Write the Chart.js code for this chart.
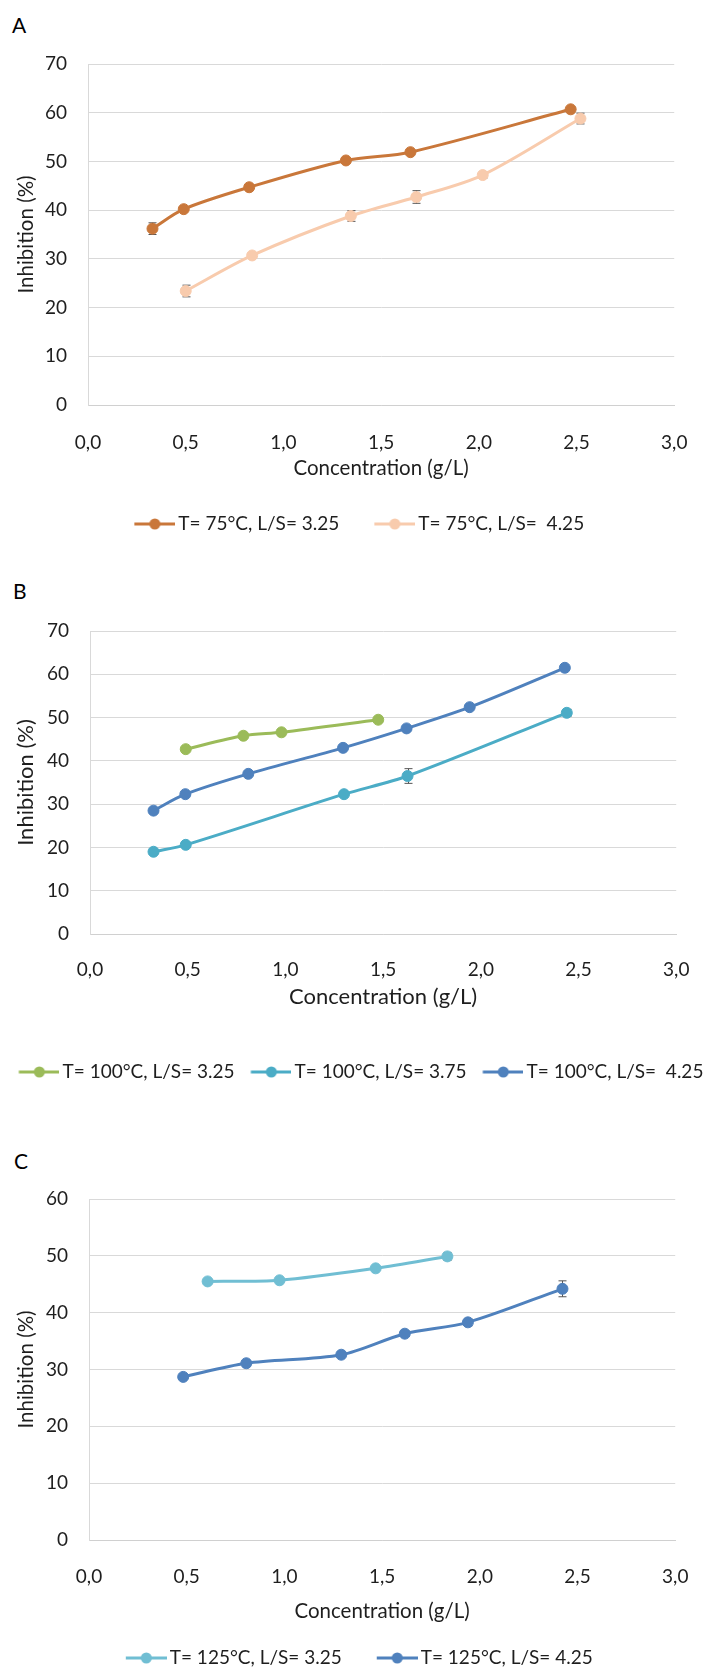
<!DOCTYPE html>
<html>
<head>
<meta charset="utf-8">
<script src="https://cdn.jsdelivr.net/npm/chart.js@4.4.0/dist/chart.umd.min.js"></script>
<style>
  html, body { margin: 0; padding: 0; background: #fff; overflow: hidden; }
  body { width: 706px; height: 1669px; position: relative; }
  canvas { position: absolute; left: 0; }
  .tag { position: absolute; font-family: Lato, sans-serif; font-size: 21px; line-height: 21px; color: #000; }
</style>
</head>
<body>
<div class="tag" style="left:12px;top:13.5px">A</div>
<div class="tag" style="left:13px;top:579.5px">B</div>
<div class="tag" style="left:14px;top:1149.5px">C</div>
<canvas id="chartA" style="top:0px" width="706" height="548"></canvas>
<canvas id="chartB" style="top:548px" width="706" height="552"></canvas>
<canvas id="chartC" style="top:1100px" width="706" height="580"></canvas>
<script>
// ---- panel A : T = 75 °C
const a1Label = 'T= 75°C, L/S= 3.25';
const a1X   = [0.33, 0.49, 0.825, 1.32, 1.65, 2.47];
const a1Y   = [36.2, 40.2, 44.7, 50.2, 51.9, 60.7];
const a1Err = [1.2, 0.3, 0.3, 0.3, 0.3, 0.4];

const a2Label = 'T= 75°C, L/S=  4.25';
const a2X   = [0.50, 0.84, 1.345, 1.68, 2.02, 2.52];
const a2Y   = [23.4, 30.7, 38.8, 42.7, 47.2, 58.8];
const a2Err = [1.2, 0.5, 1.1, 1.3, 0.6, 1.1];

// ---- panel B : T = 100 °C
const b1Label = 'T= 100°C, L/S= 3.25';
const b1X   = [0.49, 0.785, 0.98, 1.475];
const b1Y   = [42.7, 45.8, 46.6, 49.5];
const b1Err = [0.3, 0.4, 0.6, 0.6];

const b2Label = 'T= 100°C, L/S= 3.75';
const b2X   = [0.325, 0.49, 1.30, 1.625, 2.44];
const b2Y   = [19.0, 20.6, 32.3, 36.5, 51.1];
const b2Err = [0.4, 0.6, 0.4, 1.7, 0.8];

const b3Label = 'T= 100°C, L/S=  4.25';
const b3X   = [0.325, 0.488, 0.81, 1.295, 1.62, 1.943, 2.43];
const b3Y   = [28.5, 32.3, 37.0, 43.0, 47.5, 52.4, 61.5];
const b3Err = [0.3, 0.3, 0.3, 0.3, 0.3, 0.3, 0.3];

// ---- panel C : T = 125 °C
const c1Label = 'T= 125°C, L/S= 3.25';
const c1X   = [0.607, 0.975, 1.467, 1.834];
const c1Y   = [45.5, 45.7, 47.8, 49.9];
const c1Err = [0.3, 0.3, 0.3, 0.7];

const c2Label = 'T= 125°C, L/S= 4.25';
const c2X   = [0.482, 0.805, 1.291, 1.616, 1.939, 2.423];
const c2Y   = [28.7, 31.1, 32.6, 36.3, 38.3, 44.2];
const c2Err = [0.3, 0.3, 0.3, 0.5, 0.6, 1.4];

const xMin = 0, xMax = 3, xStep = 0.5;
const yStep = 10;

const FONT = 'Lato, sans-serif';
const TEXT = '#1e1e1e';
const GRID = '#d9d9d9';
const LEGEND_SIZE = 19;

// error bars drawn under the lines, from the y scale
const errorBars = {
    id: 'errorBars',
    beforeDatasetsDraw(chart)
    {
        const ctx = chart.ctx;
        const yScale = chart.scales.y;
        chart.data.datasets.forEach( (ds, i) =>
        {
            if(!ds.errors) return;
            const meta = chart.getDatasetMeta(i);
            ctx.save();
            ctx.strokeStyle = '#555';
            ctx.lineWidth = 1;
            meta.data.forEach( (pt, j) =>
            {
                const v = ds.data[j].y, e = ds.errors[j];
                const top = yScale.getPixelForValue(v + e);
                const bot = yScale.getPixelForValue(v - e);
                const x = Math.round(pt.x) + 0.5;
                ctx.beginPath();
                ctx.moveTo(x, top); ctx.lineTo(x, bot);
                ctx.moveTo(x - 4, top); ctx.lineTo(x + 4, top);
                ctx.moveTo(x - 4, bot); ctx.lineTo(x + 4, bot);
                ctx.stroke();
            } );
            ctx.restore();
        } );
    }
};

// line + dot legend symbol, pushed to the right side of its box
function legendMarker(color, bw)
{
    const w = bw + 13, h = 12;
    const c = document.createElement('canvas');
    c.width = w; c.height = h;
    const g = c.getContext('2d');
    g.strokeStyle = color; g.lineWidth = 3;
    g.beginPath(); g.moveTo(w - 41, h/2); g.lineTo(w, h/2); g.stroke();
    g.fillStyle = color;
    g.beginPath(); g.arc(w - 20.5, h/2, 5.5, 0, Math.PI*2); g.fill();
    return c;
}

function series(label, xs, ys, errs, color)
{
    return {
        label: label,
        data: xs.map( (x, i) => ({x: x, y: ys[i]}) ),
        errors: errs,
        borderColor: color,
        backgroundColor: color,
        borderWidth: 3,
        pointRadius: 5.5,
        pointBorderWidth: 1,
        pointHoverRadius: 5.5,
        showLine: true,
        tension: 0.3,
    };
}

function buildChart(canvas, datasets, p)
{
    const markers = datasets.map( (ds) => legendMarker(ds.borderColor, p.boxW) );
    return new Chart(canvas,
    {
        type: 'scatter',
        data: { datasets: datasets },
        plugins: [errorBars],
        options: {
            responsive: false,
            animation: false,
            layout: { padding: { top: p.padTop, bottom: p.padBottom, left: 0, right: 0 } },
            plugins: {
                tooltip: { enabled: false },
                title: { display: false },
                legend: {
                    position: 'bottom',
                    labels: {
                        usePointStyle: true,
                        pointStyleWidth: p.boxW,
                        padding: p.legendPad,
                        color: TEXT,
                        font: { family: FONT, size: LEGEND_SIZE },
                        generateLabels: function(chart) {
                            const items = Chart.defaults.plugins.legend.labels.generateLabels(chart);
                            items.forEach( (it, i) => { it.pointStyle = markers[i]; } );
                            return items;
                        }
                    }
                }
            },
            scales: {
                x: {
                    type: 'linear',
                    min: xMin, max: xMax,
                    grid: { display: false },
                    border: { display: true, color: '#d0d0d0', width: 1 },
                    ticks: {
                        stepSize: xStep,
                        padding: p.xTickPad,
                        color: TEXT,
                        font: { family: FONT, size: 19 },
                        maxRotation: 0,
                        callback: (v) => v.toFixed(1).replace('.', ',')
                    },
                    title: {
                        display: true,
                        text: 'Concentration (g/L)',
                        color: TEXT,
                        font: { family: FONT, size: p.titleSize },
                        padding: { top: 0, bottom: p.xTitlePad }
                    },
                    afterFit: (s) => { s.height = p.xHeight; }
                },
                y: {
                    min: 0, max: p.yMax,
                    grid: { color: GRID, lineWidth: 1, drawTicks: false },
                    border: { display: true, color: GRID, width: 1 },
                    ticks: {
                        stepSize: yStep,
                        padding: 21,
                        color: TEXT,
                        font: { family: FONT, size: 19 }
                    },
                    title: {
                        display: true,
                        text: 'Inhibition (%)',
                        color: TEXT,
                        font: { family: FONT, size: p.titleSize },
                        padding: { top: p.yTitlePad, bottom: 0 }
                    },
                    afterFit: (s) => { s.width = p.yWidth; }
                },
                yRight: {
                    position: 'right',
                    grid: { display: false },
                    border: { display: false },
                    ticks: { display: false },
                    afterFit: (s) => { s.width = 17.5; }
                }
            }
        }
    });
}

buildChart(document.getElementById('chartA'),
    [ series(a1Label, a1X, a1Y, a1Err, '#C9773A'),
      series(a2Label, a2X, a2Y, a2Err, '#F8CBAD') ],
    { yMax: 70, padTop: 64, padBottom: 4.5, xHeight: 87, xTickPad: 18.6, xTitlePad: 11.7,
      titleSize: 20.5, yTitlePad: 13.7, yWidth: 88, boxW: 47, legendPad: 22.5 });

buildChart(document.getElementById('chartB'),
    [ series(b1Label, b1X, b1Y, b1Err, '#9BBB59'),
      series(b2Label, b2X, b2Y, b2Err, '#4BACC6'),
      series(b3Label, b3X, b3Y, b3Err, '#4F81BD') ],
    { yMax: 70, padTop: 83, padBottom: 8.5, xHeight: 128.5, xTickPad: 16.6, xTitlePad: 52.3,
      titleSize: 22, yTitlePad: 12.8, yWidth: 90, boxW: 50.5, legendPad: 0 });

buildChart(document.getElementById('chartC'),
    [ series(c1Label, c1X, c1Y, c1Err, '#70BED3'),
      series(c2Label, c2X, c2Y, c2Err, '#4F81BD') ],
    { yMax: 60, padTop: 99, padBottom: 2.5, xHeight: 86, xTickPad: 17.6, xTitlePad: 2.7,
      titleSize: 20.5, yTitlePad: 13.7, yWidth: 89, boxW: 47, legendPad: 22.5 });
</script>
</body>
</html>
